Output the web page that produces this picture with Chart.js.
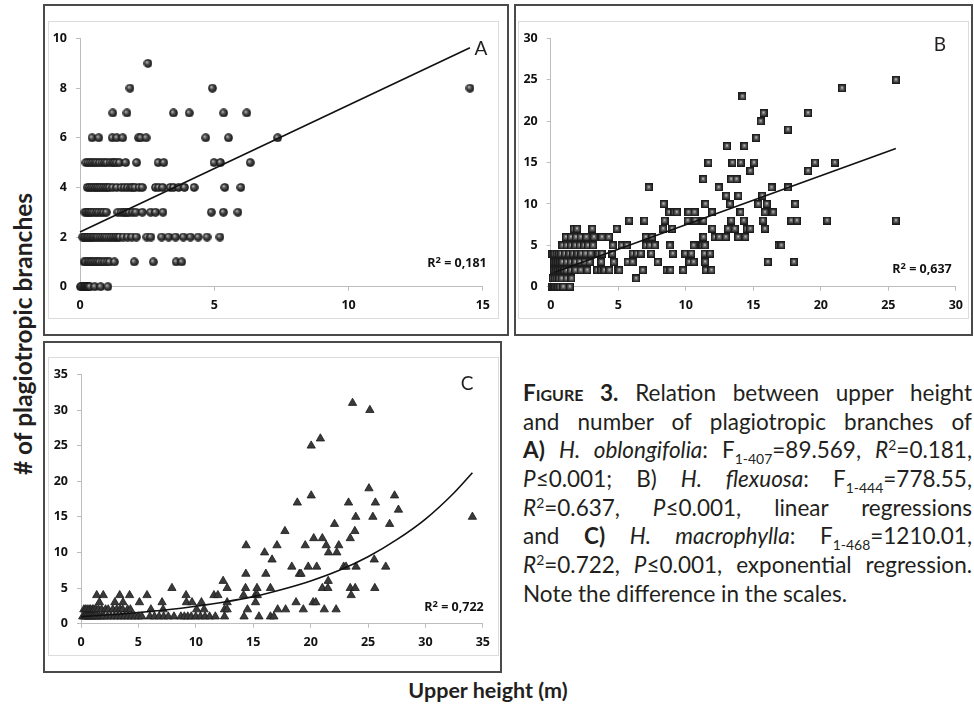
<!DOCTYPE html>
<html>
<head>
<meta charset="utf-8">
<script src="https://cdn.jsdelivr.net/npm/chart.js@4.4.1/dist/chart.umd.min.js"></script>
<style>
  html, body { margin: 0; padding: 0; background: #fff; }
  body { width: 974px; height: 708px; position: relative; overflow: hidden; font-family: Lato, "DejaVu Sans", sans-serif; color: #231f20; }
  .box { position: absolute; border: 2px solid #4a4a4a; box-sizing: border-box; }
  .frame { position: absolute; border: 1px solid #dcdcdc; box-sizing: border-box; }
  canvas { position: absolute; }
  .tag { position: absolute; transform: translate(-50%, -50%); white-space: nowrap; line-height: 1; }
  .letter { font-size: 19px; }
  .r2 { font-family: "Open Sans", Lato, sans-serif; font-size: 12.5px; font-weight: 700; color: #111; }
  .r2 sup { font-size: 0.75em; vertical-align: 0.35em; line-height: 0; }
  #ytitle { position: absolute; left: 22px; top: 334px; transform: translate(-50%, -50%) rotate(-90deg); font-size: 24.5px; font-weight: bold; white-space: nowrap; }
  #xtitle { position: absolute; left: 488px; top: 690px; transform: translate(-50%, -50%); font-size: 21.5px; font-weight: bold; white-space: nowrap; }
  #caption { position: absolute; left: 523px; top: 379px; width: 449px; font-size: 22.5px; line-height: 28.7px; }
  #caption .ln { text-align: justify; text-align-last: justify; white-space: nowrap; height: 28.7px; }
  #caption .ln.last { text-align-last: left; }
  #caption .sc { font-variant: small-caps; }
  #caption sub { font-size: 0.62em; vertical-align: -0.4em; line-height: 0; }
  #caption sup { font-size: 0.62em; vertical-align: 0.55em; line-height: 0; }
</style>
</head>
<body>

<div class="box" style="left:43px;top:4px;width:466px;height:332px"></div>
<div class="box" style="left:514px;top:4px;width:459px;height:332px"></div>
<div class="box" style="left:43px;top:341px;width:459px;height:332px"></div>

<div class="frame" style="left:48px;top:21px;width:451px;height:298px"></div>
<div class="frame" style="left:518px;top:21px;width:451px;height:298px"></div>
<div class="frame" style="left:48px;top:357px;width:451px;height:299px"></div>

<canvas id="chartA" width="449" height="296" style="left:48px;top:22px"></canvas>
<canvas id="chartB" width="452" height="296" style="left:518px;top:22px"></canvas>
<canvas id="chartC" width="449" height="297" style="left:48px;top:358px"></canvas>

<div class="tag letter" style="left:481px;top:47px">A</div>
<div class="tag letter" style="left:940px;top:43px">B</div>
<div class="tag letter" style="left:467px;top:382px">C</div>
<div class="tag r2" style="left:457px;top:263px">R<sup>2</sup> = 0,181</div>
<div class="tag r2" style="left:922px;top:269px">R<sup>2</sup> = 0,637</div>
<div class="tag r2" style="left:454px;top:607px">R<sup>2</sup> = 0,722</div>

<div id="ytitle"># of plagiotropic branches</div>
<div id="xtitle">Upper height (m)</div>

<div id="caption">
  <div class="ln"><b><span class="sc">Figure</span> 3.</b> Relation between upper height</div>
  <div class="ln">and number of plagiotropic branches of</div>
  <div class="ln"><b>A)</b> <i>H. oblongifolia</i>: F<sub>1-407</sub>=89.569, <i>R</i><sup>2</sup>=0.181,</div>
  <div class="ln"><i>P</i>≤0.001; B) <i>H. flexuosa</i>: F<sub>1-444</sub>=778.55,</div>
  <div class="ln"><i>R</i><sup>2</sup>=0.637, <i>P</i>≤0.001, linear regressions</div>
  <div class="ln">and <b>C)</b> <i>H. macrophylla</i>: F<sub>1-468</sub>=1210.01,</div>
  <div class="ln"><i>R</i><sup>2</sup>=0.722, <i>P</i>≤0.001, exponential regression.</div>
  <div class="ln last">Note the difference in the scales.</div>
</div>

<script>
// ---- H. oblongifolia (A): heights (m) observed at each branch count ----
const branchesA = [0, 1, 2, 3, 4, 5, 6, 7, 8, 9];
const heightsA = [
  [0.02, 0.07, 0.12, 0.17, 0.21, 0.25, 0.28, 0.33, 0.37, 0.55, 0.77, 1.04],
  [0.15, 0.22, 0.30, 0.37, 0.43, 0.51, 0.59, 0.66, 0.73, 0.82, 0.92, 1.01, 1.10, 1.28, 2.02, 2.73, 3.58, 3.79],
  [0.10, 0.15, 0.21, 0.27, 0.33, 0.39, 0.45, 0.51, 0.59, 0.67, 0.75, 0.83, 0.91, 1.00, 1.08, 1.16, 1.24, 1.32, 1.40, 1.47, 1.61, 1.77, 1.93, 2.10, 2.49, 2.64, 3.04, 3.30, 3.56, 3.85, 4.11, 4.40, 4.73, 5.21],
  [0.18, 0.25, 0.31, 0.37, 0.43, 0.52, 0.61, 0.70, 0.79, 0.88, 0.98, 1.41, 1.53, 1.62, 1.69, 1.76, 1.83, 1.96, 2.08, 2.32, 2.63, 2.81, 3.09, 4.89, 5.34, 5.88],
  [0.27, 0.35, 0.43, 0.51, 0.58, 0.65, 0.72, 0.79, 0.87, 0.95, 1.02, 1.10, 1.22, 1.37, 1.53, 1.65, 1.77, 1.89, 1.97, 2.05, 2.20, 2.32, 2.81, 2.93, 3.08, 3.36, 3.48, 3.67, 3.89, 4.25, 5.39, 5.99],
  [0.22, 0.30, 0.38, 0.46, 0.55, 0.63, 0.73, 0.82, 0.92, 1.00, 1.12, 1.22, 1.28, 1.37, 1.47, 1.70, 2.11, 2.91, 3.12, 4.99, 5.23, 6.34],
  [0.45, 0.70, 1.20, 1.37, 1.59, 2.18, 2.26, 2.46, 4.68, 5.53, 7.36],
  [1.22, 1.75, 3.48, 4.07, 5.35, 6.21],
  [1.86, 4.93, 14.52],
  [2.53]
];
// linear fit drawn across the observed height range
const fitAX = [0, 14.52];
const fitAY = [2.2, 9.63];
const ticksAX = [0, 5, 10, 15];
const ticksAY = [0, 2, 4, 6, 8, 10];

// ---- H. flexuosa (B) ----
const branchesB = [0, 1, 2, 3, 4, 5, 6, 7, 8, 9, 10, 11, 12, 13, 14, 15, 17, 18, 19, 20, 21, 23, 24, 25];
const heightsB = [
  [0.07, 0.15, 0.27, 0.35, 0.44, 0.55, 0.68, 0.93, 1.42],
  [0.15, 0.30, 0.44, 0.62, 0.81, 1.17, 1.54, 6.33],
  [0.27, 0.42, 0.56, 0.71, 0.86, 1.02, 1.17, 1.49, 1.83, 2.22, 2.71, 3.44, 3.74, 3.98, 4.35, 4.96, 5.08, 6.82, 8.58, 8.87, 9.80, 11.48, 11.90],
  [0.27, 0.42, 0.56, 0.71, 0.86, 1.17, 1.49, 1.83, 2.15, 2.52, 2.88, 3.74, 4.67, 5.69, 6.06, 7.92, 10.26, 10.58, 11.43, 16.08, 18.01],
  [0.12, 0.28, 0.44, 0.60, 0.76, 1.05, 1.37, 1.66, 1.98, 2.27, 2.59, 2.96, 3.54, 3.79, 4.54, 6.06, 6.38, 6.67, 7.43, 9.04, 9.97, 10.41, 11.39, 11.80],
  [0.86, 1.17, 1.49, 1.83, 2.15, 2.47, 2.76, 3.13, 4.59, 5.25, 5.64, 7.04, 7.33, 7.70, 8.82, 10.58, 11.24, 11.41, 16.88, 17.08],
  [1.12, 1.49, 1.86, 2.22, 2.64, 3.20, 3.79, 4.30, 7.04, 7.50, 11.31, 12.14, 12.48, 12.97, 13.88, 14.42],
  [1.70, 1.95, 3.08, 4.89, 8.33, 8.99, 11.97, 13.12, 13.63, 14.51, 14.78, 15.86],
  [5.81, 6.94, 8.43, 10.14, 10.70, 11.31, 13.36, 14.29, 15.71, 17.81, 18.23, 20.47, 25.56],
  [8.77, 9.16, 9.33, 10.20, 10.65, 11.95, 14.05, 15.86, 16.47],
  [8.36, 11.46, 13.27, 15.37, 16.00, 18.10],
  [13.00, 13.90, 15.66],
  [7.26, 12.44, 16.35, 17.57],
  [11.29, 13.36, 13.76],
  [14.78, 19.06],
  [11.68, 13.46, 14.07, 15.05, 19.57, 21.04],
  [13.05, 14.34],
  [15.22],
  [17.57],
  [15.54],
  [15.76, 19.06],
  [14.20],
  [21.57],
  [25.56]
];
const fitBX = [0.3, 25.56];
const fitBY = [1.75, 16.7];
const ticksBX = [0, 5, 10, 15, 20, 25, 30];
const ticksBY = [0, 5, 10, 15, 20, 25, 30];

// ---- H. macrophylla (C) ----
const branchesC = [1, 2, 3, 4, 5, 6, 7, 8, 9, 10, 11, 12, 13, 14, 15, 16, 17, 18, 19, 25, 26, 30, 31];
const heightsC = [
  [0.15, 0.30, 0.45, 0.60, 0.75, 0.90, 1.05, 1.20, 1.40, 1.60, 1.80, 2.00, 2.30, 2.60, 2.90, 3.20, 3.50, 3.80, 4.10, 4.40, 4.70, 5.00, 5.30, 6.00, 6.40, 6.80, 7.20, 7.60, 8.10, 8.70, 9.00, 9.30, 9.60, 10.00, 10.40, 10.80, 11.20, 11.70, 12.50, 14.20, 15.50, 16.50, 16.80],
  [0.25, 0.40, 0.54, 0.70, 0.83, 1.00, 1.12, 1.30, 1.52, 1.80, 2.14, 2.37, 2.77, 3.12, 3.40, 3.63, 4.06, 4.30, 6.09, 7.15, 10.07, 10.72, 12.50, 12.73, 14.50, 17.13, 17.82, 19.36, 21.19, 22.22],
  [1.60, 2.95, 3.66, 5.09, 7.06, 9.18, 9.67, 10.49, 12.73, 15.20, 18.73, 20.22, 20.45],
  [1.37, 1.94, 3.37, 4.23, 5.75, 9.15, 11.58, 11.92, 14.16, 15.18, 15.36, 23.53],
  [7.92, 12.73, 14.33, 15.33, 16.50, 21.02, 21.50, 23.45, 23.88, 25.59],
  [12.38, 21.53],
  [14.36, 16.10, 19.02, 19.16],
  [18.36, 19.79, 20.53, 22.88, 23.08, 23.96, 26.54],
  [16.64, 25.54],
  [15.99, 21.56, 22.28],
  [14.38, 17.07, 19.53, 21.36, 22.45],
  [20.27, 21.02, 23.45],
  [17.76, 23.85],
  [22.08, 26.88],
  [23.93, 25.42, 34.09],
  [27.65],
  [18.84, 23.30, 25.64],
  [20.05, 27.31],
  [25.08],
  [20.05],
  [20.85],
  [25.16],
  [23.65]
];
// exponential trend, sampled along the drawn curve
const fitCX = [0, 2.5, 5, 7.5, 10, 12.5, 15, 17.5, 20, 22.5, 25, 27.5, 30, 32.5, 34.09];
const fitCY = [1.0, 1.25, 1.56, 1.95, 2.45, 3.05, 3.8, 4.8, 6.0, 7.5, 9.4, 11.8, 14.7, 18.4, 21.2];
const ticksCX = [0, 5, 10, 15, 20, 25, 30, 35];
const ticksCY = [0, 5, 10, 15, 20, 25, 30, 35];

// ---- marker sprites ----
function sprite(size, paint) {
  const c = document.createElement('canvas');
  c.width = c.height = size;
  paint(c.getContext('2d'), size);
  return c;
}
const ballMarker = sprite(9, (g, s) => {
  const r = s / 2 - 0.5;
  const grad = g.createRadialGradient(s / 2 - 1.3, s / 2 - 1.4, 0.4, s / 2, s / 2, r);
  grad.addColorStop(0, '#b4b4b4');
  grad.addColorStop(0.45, '#4c4c4c');
  grad.addColorStop(1, '#141414');
  g.beginPath();
  g.arc(s / 2, s / 2, r, 0, Math.PI * 2);
  g.fillStyle = grad;
  g.fill();
  g.lineWidth = 0.7;
  g.strokeStyle = '#1a1a1a';
  g.stroke();
});
const boxMarker = sprite(8, (g, s) => {
  g.fillStyle = '#1c1c1c';
  g.fillRect(0, 0, s, s);
  g.fillStyle = '#5e5e5e';
  g.fillRect(1.5, 1.5, s - 3, s - 3);
  g.fillStyle = '#b5b5b5';
  g.fillRect(s / 2 - 1, s / 2 - 1.5, 2, 2);
});

function toPoints(levels, heights) {
  const pts = [];
  levels.forEach((b, i) => heights[i].forEach(h => pts.push({ x: h, y: b })));
  return pts;
}
function toLine(xs, ys) {
  return xs.map((x, i) => ({ x: x, y: ys[i] }));
}

const tickFont = { family: '"Open Sans", Lato, sans-serif', weight: 'bold', size: 12.5 };
const axisColor = '#bdbdbd';

function axis(ticksList, max, afterFit, padding) {
  return {
    type: 'linear',
    min: 0,
    max: max,
    afterBuildTicks: s => { s.ticks = ticksList.map(v => ({ value: v })); },
    afterFit: afterFit,
    grid: { display: true, drawOnChartArea: false, drawTicks: true, tickLength: 4, color: axisColor, tickColor: axisColor, lineWidth: 1 },
    border: { display: true, color: axisColor, width: 1 },
    ticks: { font: tickFont, color: '#111', padding: padding, maxRotation: 0, autoSkip: false }
  };
}

function makePanel(id, points, marker, fit, xTicks, yTicks, box) {
  const scatterSet = {
    type: 'scatter',
    data: points,
    pointStyle: marker.style,
    pointRadius: marker.radius,
    backgroundColor: marker.fill,
    borderColor: marker.edge,
    borderWidth: marker.edgeWidth,
    clip: false
  };
  const fitSet = {
    type: 'line',
    data: fit.points,
    borderColor: '#111',
    borderWidth: 1.6,
    pointRadius: 0,
    fill: false,
    tension: 0,
    cubicInterpolationMode: fit.smooth ? 'monotone' : 'default',
    clip: false
  };
  return new Chart(document.getElementById(id), {
    type: 'scatter',
    data: { datasets: [fitSet, scatterSet] },
    options: {
      responsive: false,
      maintainAspectRatio: false,
      animation: false,
      events: [],
      layout: { padding: { left: 0, right: box.right, top: box.top, bottom: 0 } },
      plugins: { legend: { display: false }, tooltip: { enabled: false } },
      scales: {
        x: axis(xTicks, xTicks[xTicks.length - 1], s => { s.height = box.xh; }, 7),
        y: axis(yTicks, yTicks[yTicks.length - 1], s => { s.width = box.yw; }, 9)
      }
    }
  });
}

makePanel('chartA', toPoints(branchesA, heightsA),
  { style: ballMarker, radius: 4.5, fill: '#444', edge: '#111', edgeWidth: 0 },
  { points: toLine(fitAX, fitAY), smooth: false },
  ticksAX, ticksAY, { right: 8, top: 11.3, xh: 31.3, yw: 32 });

makePanel('chartB', toPoints(branchesB, heightsB),
  { style: boxMarker, radius: 4, fill: '#555', edge: '#111', edgeWidth: 0 },
  { points: toLine(fitBX, fitBY), smooth: false },
  ticksBX, ticksBY, { right: 10, top: 11.3, xh: 31.3, yw: 32.7 });

makePanel('chartC', toPoints(branchesC, heightsC),
  { style: 'triangle', radius: 4.8, fill: '#3a3a3a', edge: '#1a1a1a', edgeWidth: 0.8 },
  { points: toLine(fitCX, fitCY), smooth: true },
  ticksCX, ticksCY, { right: 8, top: 12.7, xh: 31.3, yw: 33 });
</script>
</body>
</html>
